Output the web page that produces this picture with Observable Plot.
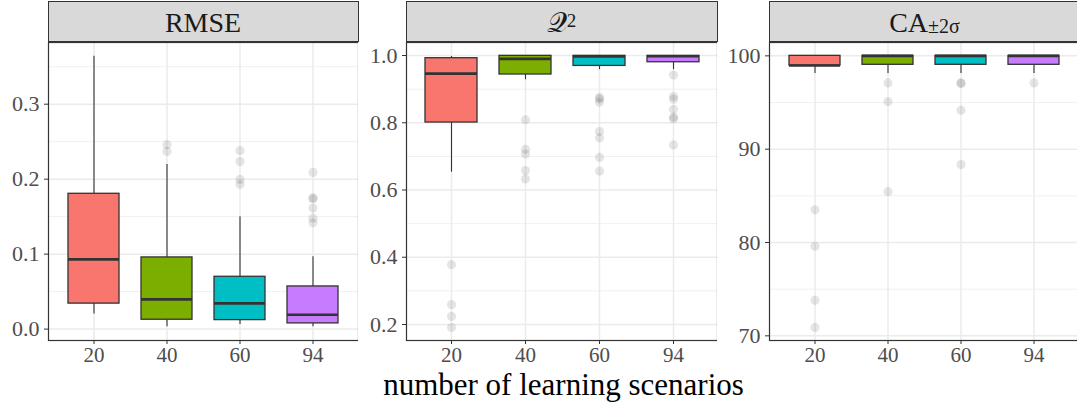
<!DOCTYPE html>
<html>
<head>
<meta charset="utf-8">
<script src="https://cdn.jsdelivr.net/npm/d3@7"></script>
<script src="https://cdn.jsdelivr.net/npm/@observablehq/plot@0.6"></script>
<style>
  html, body { margin: 0; padding: 0; background: #fff; }
  #root { position: relative; width: 1077px; height: 406px; overflow: hidden; background: #fff; font-family: "Liberation Serif", "DejaVu Serif", serif; }
  .panel { position: absolute; top: 0; }
  .panel text { font-family: "Liberation Serif", "DejaVu Serif", serif !important; }
  .strip { position: absolute; top: 1px; height: 41px; box-sizing: border-box; border: 1px solid #333; background: #d9d9d9;
           display: flex; align-items: center; justify-content: center; font-size: 28px; color: #1a1a1a; line-height: 1; padding-top: 2px; }
  .strip sup { font-size: 19px; position: relative; top: -2px; vertical-align: super; line-height: 0; }
  .strip sub { font-size: 20px; vertical-align: sub; line-height: 0; position: relative; top: 3px; }
  #xtitle { position: absolute; left: 0; width: 1127px; top: 375px; height: 20px; text-align: center; font-size: 31px; color: #000; line-height: 20px; }
</style>
</head>
<body>
<div id="root"></div>
<script>
// ---- categories and palette ----
const groups = ["20", "40", "60", "94"];
const palette = ["#F8766D", "#7CAE00", "#00BFC4", "#C77CFF"];

// ---- RMSE panel ----
const rmseLow  = [0.020, 0.003, 0.006, 0.003];
const rmseQ1   = [0.034, 0.0125, 0.012, 0.0076];
const rmseMed  = [0.093, 0.0396, 0.0343, 0.0192];
const rmseQ3   = [0.1805, 0.0956, 0.0698, 0.0569];
const rmseHigh = [0.364, 0.2196, 0.150, 0.0965];
const rmseOutliers = [[], [0.246, 0.237], [0.238, 0.2236, 0.1996, 0.1933], [0.209, 0.175, 0.174, 0.1614, 0.148, 0.1418]];
const rmseTicks = [0.0, 0.1, 0.2, 0.3];
const rmseMinor = [0.05, 0.15, 0.25, 0.35];
const rmseDomain = [-0.0152, 0.3823];

// ---- Q2 panel ----
const q2Low  = [0.653, 0.928, 0.958, 0.958];
const q2Q1   = [0.8007, 0.9435, 0.969, 0.980];
const q2Med  = [0.946, 0.990, 0.997, 0.998];
const q2Q3   = [0.992, 0.999, 0.999, 0.999];
const q2High = [0.997, 1.0, 1.0, 1.0];
const q2Outliers = [[0.378, 0.259, 0.224, 0.191], [0.809, 0.721, 0.707, 0.658, 0.633], [0.875, 0.871, 0.861, 0.774, 0.755, 0.697, 0.656], [0.942, 0.878, 0.870, 0.840, 0.817, 0.812, 0.734]];
const q2Ticks = [0.2, 0.4, 0.6, 0.8, 1.0];
const q2Minor = [0.3, 0.5, 0.7, 0.9];
const q2Domain = [0.1524, 1.0387];

// ---- CA panel ----
const caLow  = [98.1, 98.1, 98.1, 98.1];
const caQ1   = [98.96, 99.04, 99.04, 99.04];
const caMed  = [98.96, 100, 100, 100];
const caQ3   = [100, 100, 100, 100];
const caHigh = [100, 100, 100, 100];
const caOutliers = [[83.5, 79.6, 73.8, 70.9], [97.1, 95.1, 85.45], [97.1, 97.05, 94.17, 88.35], [97.1]];
const caTicks = [70, 80, 90, 100];
const caMinor = [75, 85, 95];
const caDomain = [69.5, 101.43];

const stripLabels = ["RMSE", "𝒬<sup>2</sup>", "CA<sub>±2σ</sub>"];
const xTitle = "number of learning scenarios";

const root = document.getElementById("root");
const serif = "Liberation Serif, DejaVu Serif, serif";

function panel({low, q1, med, q3, high, outliers, ticks, minor, domain, fmt}, left, width, mLeft, mRight) {
  const rows = groups.map((g, i) => ({g, lo: low[i], q1: q1[i], med: med[i], q3: q3[i], hi: high[i]}));
  const outs = groups.flatMap((g, i) => outliers[i].map(v => ({g, v})));
  const chart = Plot.plot({
    width, height: 372,
    marginLeft: mLeft, marginRight: mRight, marginTop: 42, marginBottom: 32,
    style: {fontFamily: serif, fontSize: "21px", background: "white", overflow: "visible"},
    x: {type: "band", domain: groups, paddingInner: 0.3, paddingOuter: 0.25, align: 0.5},
    y: {domain},
    color: {domain: groups, range: palette},
    marks: [
      Plot.ruleY(minor, {stroke: "#f0f0f0", strokeWidth: 1}),
      Plot.ruleY(ticks, {stroke: "#ebebeb", strokeWidth: 1.5}),
      Plot.ruleX(groups, {x: d => d, stroke: "#ebebeb", strokeWidth: 1.5}),
      Plot.dot(outs, {x: "g", y: "v", r: 4.6, fill: "#000", fillOpacity: 0.1, stroke: null}),
      Plot.ruleX(rows, {x: "g", y1: "q3", y2: "hi", stroke: "#333", strokeWidth: 1.1}),
      Plot.ruleX(rows, {x: "g", y1: "lo", y2: "q1", stroke: "#333", strokeWidth: 1.1}),
      Plot.barY(rows, {x: "g", y1: "q1", y2: "q3", fill: "g", stroke: "#333", strokeWidth: 1.3}),
      Plot.tickY(rows, {x: "g", y: "med", stroke: "#333", strokeWidth: 2.6}),
      Plot.frame({stroke: "#333", strokeWidth: 1.2}),
      Plot.axisY(ticks, {anchor: "left", tickSize: 4, tickPadding: 5, tickFormat: fmt, label: null,
                         stroke: "#333", fill: "#4d4d4d", fontSize: 22, fontFamily: serif}),
      Plot.axisX({anchor: "bottom", tickSize: 4, tickPadding: 3, label: null,
                  stroke: "#333", fill: "#4d4d4d", fontSize: 21, fontFamily: serif})
    ]
  });
  chart.classList.add("panel");
  chart.style.left = left + "px";
  root.appendChild(chart);
}

const f1 = d => d.toFixed(1);
const f0 = d => d.toFixed(0);
panel({low: rmseLow, q1: rmseQ1, med: rmseMed, q3: rmseQ3, high: rmseHigh, outliers: rmseOutliers, ticks: rmseTicks, minor: rmseMinor, domain: rmseDomain, fmt: f1}, 0, 360, 48, 2);
panel({low: q2Low, q1: q2Q1, med: q2Med, q3: q2Q3, high: q2High, outliers: q2Outliers, ticks: q2Ticks, minor: q2Minor, domain: q2Domain, fmt: f1}, 358, 360, 48, 1);
panel({low: caLow, q1: caQ1, med: caMed, q3: caQ3, high: caHigh, outliers: caOutliers, ticks: caTicks, minor: caMinor, domain: caDomain, fmt: f0}, 717, 362, 52, 0);

const stripPos = [[47.5, 311], [405.5, 312], [768.5, 312]];
stripLabels.forEach((lab, i) => {
  const d = document.createElement("div");
  d.className = "strip";
  d.style.left = stripPos[i][0] + "px";
  d.style.width = stripPos[i][1] + "px";
  d.innerHTML = lab;
  root.appendChild(d);
});
const t = document.createElement("div");
t.id = "xtitle";
t.textContent = xTitle;
root.appendChild(t);
</script>
</body>
</html>
